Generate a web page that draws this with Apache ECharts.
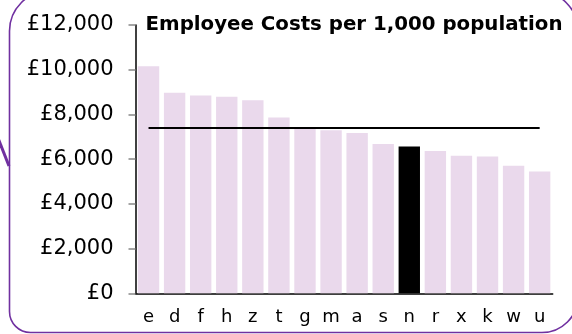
<!DOCTYPE html>
<html>
<head>
<meta charset="utf-8">
<style>
  html, body { margin: 0; padding: 0; background: #ffffff; }
  #chart { width: 572px; height: 334px; }
</style>
<script src="https://cdn.jsdelivr.net/npm/echarts@6/dist/echarts.min.js"></script>
</head>
<body>
<div id="chart"></div>
<script>
// Authority codes, sorted by employee cost per 1,000 population
const categories = ['e', 'd', 'f', 'h', 'z', 't', 'g', 'm', 'a', 's', 'n', 'r', 'x', 'k', 'w', 'u'];
const costs = [10150, 8970, 8850, 8790, 8630, 7860, 7350, 7290, 7165, 6680, 6565, 6370, 6150, 6120, 5710, 5450];
const highlighted = 'n';
const averageCost = 7390;
const yTicks = { min: 0, max: 12000, interval: 2000 };

const FONT = 'DejaVu Sans, Verdana, sans-serif';
const PURPLE = '#7030a0';

const barData = costs.map((v, i) => ({
  value: v,
  itemStyle: { color: categories[i] === highlighted ? '#000000' : '#ead9ec' }
}));

const chart = echarts.init(document.getElementById('chart'), null, { renderer: 'canvas' });
chart.setOption({
  animation: false,
  backgroundColor: '#ffffff',
  title: {
    text: 'Employee Costs per 1,000 population',
    left: 349,
    textAlign: 'center',
    top: 10,
    textStyle: { fontFamily: FONT, fontWeight: 'bold', fontSize: 19.8, color: '#000000' }
  },
  grid: { left: 135.5, right: 19.3, top: 25, bottom: 40.7, containLabel: false },
  xAxis: {
    type: 'category',
    data: categories,
    axisLine: { lineStyle: { color: '#000000', width: 1.5 } },
    axisTick: { show: false },
    axisLabel: { fontFamily: FONT, fontSize: 18, color: '#000000', margin: 15 }
  },
  yAxis: {
    type: 'value',
    min: yTicks.min,
    max: yTicks.max,
    interval: yTicks.interval,
    axisLine: { show: true, lineStyle: { color: '#000000', width: 1.5 } },
    axisTick: { show: true, length: 7, lineStyle: { color: '#888888', width: 1.5 } },
    splitLine: { show: false },
    axisLabel: {
      fontFamily: FONT,
      fontSize: 21,
      color: '#000000',
      margin: 22,
      formatter: v => '£' + v.toLocaleString('en-GB')
    }
  },
  series: [{
    type: 'bar',
    data: barData,
    barCategoryGap: '18%',
    markLine: {
      silent: true,
      symbol: ['none', 'none'],
      label: { show: false },
      lineStyle: { color: '#000000', width: 2.2, type: 'solid' },
      data: [[
        { coord: [categories[0], averageCost] },
        { coord: [categories[categories.length - 1], averageCost] }
      ]]
    }
  }],
  graphic: [
    {
      type: 'rect',
      shape: { x: 9.5, y: -9, width: 568.5, height: 341.5, r: [40, 40, 36, 21] },
      style: { fill: null, stroke: PURPLE, lineWidth: 1.6 },
      silent: true
    },
    {
      type: 'line',
      shape: { x1: -4, y1: 133, x2: 9, y2: 166 },
      style: { stroke: PURPLE, lineWidth: 3 },
      silent: true
    }
  ]
});
</script>
</body>
</html>
